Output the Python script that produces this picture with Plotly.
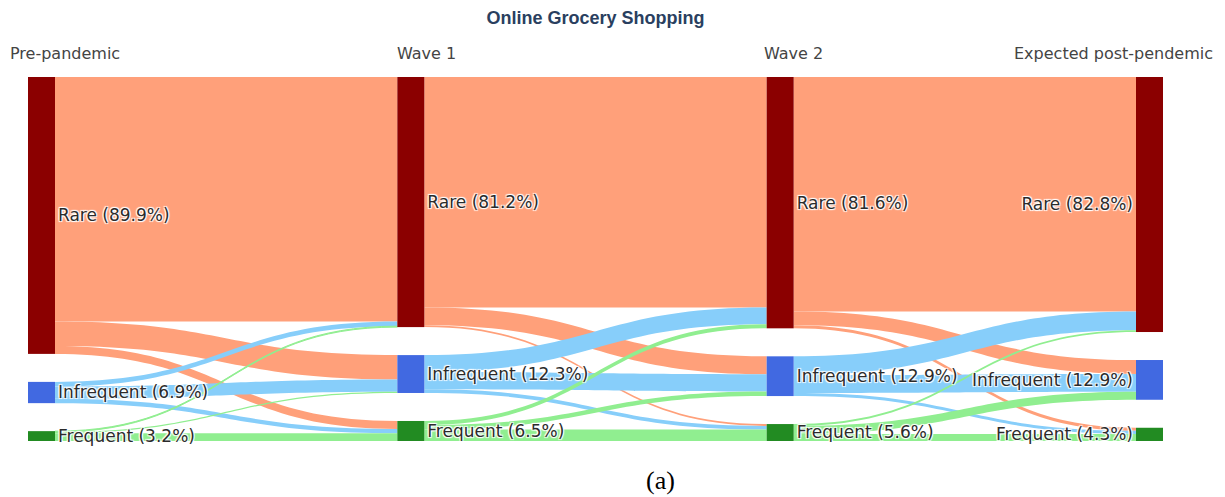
import plotly.graph_objects as go

# ---- data ----
stages = ["Pre-pandemic", "Wave 1", "Wave 2", "Expected post-pendemic"]
levels = ["Rare", "Infrequent", "Frequent"]
node_pct = [
    [89.9, 6.9, 3.2],
    [81.2, 12.3, 6.5],
    [81.6, 12.9, 5.6],
    [82.8, 12.9, 4.3],
]
# flows[t][i][j]: share moving from level i in stage t to level j in stage t+1
flows = [
    [[79.4, 7.9, 2.6], [1.5, 4.0, 1.4], [0.3, 0.4, 2.5]],
    [[74.8, 5.8, 0.6], [5.5, 5.6, 1.2], [1.3, 1.5, 3.7]],
    [[76.1, 4.5, 1.0], [6.1, 5.8, 1.0], [0.6, 2.6, 2.3]],
]

node_colors = ["#8B0000", "#4169E1", "#228B22"]
link_colors = ["#FFA07A", "#87CEFA", "#90EE90"]

labels, ncolors = [], []
for s in range(len(stages)):
    for k, lv in enumerate(levels):
        labels.append(f"{lv} ({node_pct[s][k]}%)")
        ncolors.append(node_colors[k])

src, tgt, val, lcol = [], [], [], []
for t, mat in enumerate(flows):
    for i in range(3):
        for j in range(3):
            src.append(t * 3 + i)
            tgt.append((t + 1) * 3 + j)
            val.append(mat[i][j])
            lcol.append(link_colors[i])

fig = go.Figure(go.Sankey(
    node=dict(label=labels, color=ncolors, pad=28, thickness=27,
              line=dict(width=0)),
    link=dict(source=src, target=tgt, value=val, color=lcol),
    textfont=dict(family="DejaVu Sans", size=17, color="#2b2b2b"),
    hoverinfo="none",
))

OFF = 8  # page body margin
W, H = 1225 - OFF, 497 - OFF
L, R, T, B = 28 - OFF, 62, 77 - OFF, 56
pw, ph = W - L - R, H - T - B

def px_x(x):
    return (x - OFF - L) / pw

def px_y(y):
    return (H - B - (y - OFF)) / ph

stage_x = [8, 395, 762, 1215]
anns = []
for k, name in enumerate(stages):
    anns.append(dict(text=name, x=px_x(stage_x[k]), y=px_y(53), xref="paper", yref="paper",
                     xanchor="right" if k == len(stages) - 1 else "left", yanchor="middle",
                     showarrow=False, font=dict(family="DejaVu Sans", size=16, color="#444")))
anns.append(dict(text="(a)", x=px_x(660), y=px_y(480), xref="paper", yref="paper",
                 xanchor="center", yanchor="middle", showarrow=False,
                 font=dict(family="Liberation Serif", size=26, color="#000")))

fig.update_layout(
    width=W, height=H,
    margin=dict(l=L, r=R, t=T, b=B),
    paper_bgcolor="white", plot_bgcolor="white",
    title=dict(text="<b>Online Grocery Shopping</b>", x=0.5, xref="paper", xanchor="center",
               y=1 - (18 - OFF) / H, yanchor="middle",
               font=dict(family="Liberation Sans", size=18, color="#2a3f5f")),
    annotations=anns,
)

fig.write_html("out.html")
